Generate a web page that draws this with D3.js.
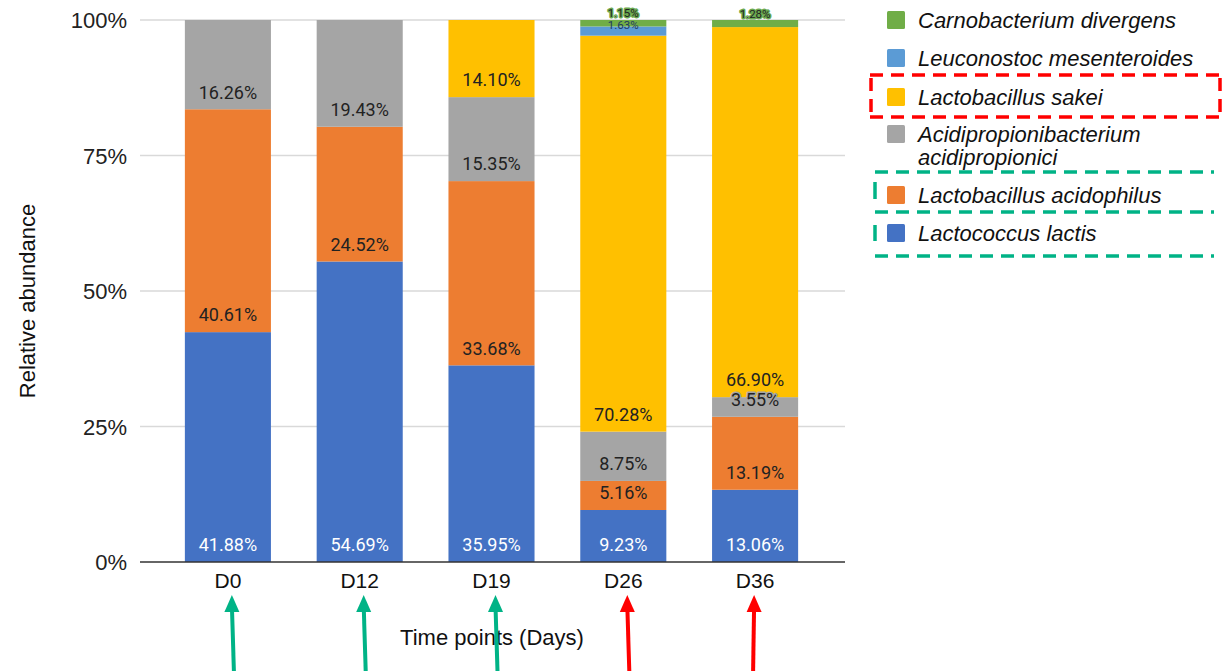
<!DOCTYPE html>
<html><head><meta charset="utf-8">
<script src="https://cdn.jsdelivr.net/npm/d3@7"></script>
<style>body{margin:0;background:#fff}svg{display:block}</style>
</head><body><svg id="c" width="1222" height="671"></svg>
<script>
const days = ["D0","D12","D19","D26","D36"];
const species = ["Lactococcus lactis","Lactobacillus acidophilus","Acidipropionibacterium acidipropionici","Lactobacillus sakei","Leuconostoc mesenteroides","Carnobacterium divergens"];
const lactis = [41.88,54.69,35.95,9.23,13.06];
const acidophilus = [40.61,24.52,33.68,5.16,13.19];
const acidipropionici = [16.26,19.43,15.35,8.75,3.55];
const sakei = [0,0,14.10,70.28,66.90];
const mesenteroides = [0,0,0,1.63,0];
const divergens = [0,0,0,1.15,1.28];
const yTicks = [0,0.25,0.5,0.75,1];
const arrowColors = ["green","green","green","red","red"];

const colors = ["#4472c4","#ed7d31","#a5a5a5","#ffc000","#5b9bd5","#70ad47"];
const series = [lactis,acidophilus,acidipropionici,sakei,mesenteroides,divergens];
const table = days.map((d,i)=>{const o={day:d}; species.forEach((s,k)=>o[s]=series[k][i]); return o;});
const stacked = d3.stack().keys(species).offset(d3.stackOffsetExpand)(table);

const svg = d3.select("#c");
const x = d3.scaleBand().domain(days).range([162,821]).paddingInner(0.347).paddingOuter(0.1735);
const y = d3.scaleLinear().domain([0,1]).range([562,20]);
const gx0 = 140, gx1 = 845;

// gridlines
svg.append("g").selectAll("line").data(yTicks.filter(t=>t>0)).join("line")
  .attr("x1",gx0).attr("x2",gx1).attr("y1",d=>y(d)).attr("y2",d=>y(d))
  .attr("stroke","#d9d9d9").attr("stroke-width",1.3);

// y tick labels
svg.append("g").selectAll("text").data(yTicks).join("text")
  .attr("x",127).attr("y",d=>y(d)+8).attr("text-anchor","end")
  .attr("font-family","Liberation Sans, Arial").attr("font-size",22).attr("fill","#222")
  .text(d3.format(".0%"));

// bars
const gs = svg.append("g").selectAll("g").data(stacked).join("g").attr("fill",(d,i)=>colors[i]);
gs.selectAll("rect").data(d=>d.filter(v=>v[1]-v[0]>0)).join("rect")
  .attr("x",d=>x(d.data.day)).attr("width",x.bandwidth())
  .attr("y",d=>y(d[1])).attr("height",d=>y(d[0])-y(d[1]));

// baseline
svg.append("line").attr("x1",gx0).attr("x2",gx1).attr("y1",y(0)).attr("y2",y(0)).attr("stroke","#333").attr("stroke-width",1.3);

// labels
const lab = svg.append("g").attr("font-family","Roboto, sans-serif").attr("text-anchor","middle");
stacked.forEach((s,k)=>{
  s.forEach(v=>{
    const val = v.data[species[k]];
    if(!(val>0)) return;
    const small = val < 3;
    const t = lab.append("text")
      .attr("x", x(v.data.day)+x.bandwidth()/2)
      .attr("y", y(v[0]) - (small?(k===5?13:11):17) + (small?4:6.3))
      .attr("font-size", small?11.5:18)
      .attr("fill", k===0 ? "#fff" : (k===4 ? "#1f3a60" : "#222"))
      .text(val.toFixed(2)+"%");
    if(k===5){ t.attr("stroke","#6aa84f").attr("stroke-width",3).attr("paint-order","stroke").attr("stroke-linejoin","round"); }
    else if(k>0 && k<4){ t.attr("stroke",colors[k]).attr("stroke-width",3).attr("paint-order","stroke").attr("stroke-linejoin","round"); }
  });
});

// x labels
svg.append("g").selectAll("text").data(days).join("text")
  .attr("x",d=>x(d)+x.bandwidth()/2).attr("y",588).attr("text-anchor","middle")
  .attr("font-family","Liberation Sans, Arial").attr("font-size",21).attr("fill","#111").text(d=>d);

// axis titles
svg.append("text").attr("x",492).attr("y",645).attr("text-anchor","middle")
  .attr("font-family","Liberation Sans, Arial").attr("font-size",22).attr("fill","#111").text("Time points (Days)");
svg.append("text").attr("transform","translate(35,301) rotate(-90)").attr("text-anchor","middle")
  .attr("font-family","Liberation Sans, Arial").attr("font-size",22).attr("fill","#111").text("Relative abundance");

// arrows
const acol = {green:"#00b386", red:"#ff0000"};
days.forEach((d,i)=>{
  const cx = x(d)+x.bandwidth()/2 + (i<4?4:-1);
  const c = acol[arrowColors[i]];
  const dx = i<4 ? 2 : -1;
  svg.append("line").attr("x1",cx).attr("y1",606).attr("x2",cx+dx).attr("y2",671).attr("stroke",c).attr("stroke-width",4);
  svg.append("path").attr("d",`M${cx},595 L${cx-7.5},612 L${cx+7.5},612 Z`).attr("fill",c);
});

// legend
const legendItems = [
  {k:5, lines:["Carnobacterium divergens"], cy:20},
  {k:4, lines:["Leuconostoc mesenteroides"], cy:58},
  {k:3, lines:["Lactobacillus sakei"], cy:97},
  {k:2, lines:["Acidipropionibacterium","acidipropionici"], cy:134},
  {k:1, lines:["Lactobacillus acidophilus"], cy:195},
  {k:0, lines:["Lactococcus lactis"], cy:233}
];
const lg = svg.append("g");
legendItems.forEach(it=>{
  lg.append("rect").attr("x",887).attr("y",it.cy-9).attr("width",18).attr("height",18).attr("rx",1.5).attr("fill",colors[it.k]);
  it.lines.forEach((ln,j)=>{
    lg.append("text").attr("x",918).attr("y",it.cy+8+j*23)
      .attr("font-family","Liberation Sans, Arial").attr("font-style","italic").attr("font-size",22).attr("fill","#111").text(ln);
  });
});

// dashed highlight boxes
const dash = {"stroke-width":3.5, "stroke-dasharray":"13,8", fill:"none"};
function dl(x1,y1,x2,y2,c){
  const l = svg.append("line").attr("x1",x1).attr("y1",y1).attr("x2",x2).attr("y2",y2).attr("stroke",c);
  Object.entries(dash).forEach(([a,v])=>l.attr(a,v));
}
dl(870,75,1221,75,"#ff0000"); dl(870,117,1221,117,"#ff0000");
dl(871,78,871,117,"#ff0000"); dl(1220,78,1220,117,"#ff0000");
const g2 = "#00b386";
dl(875,172,1214,172,g2); dl(875,212,1214,212,g2); dl(875,256,1214,256,g2);
svg.append("line").attr("x1",875).attr("y1",182).attr("x2",875).attr("y2",199).attr("stroke",g2).attr("stroke-width",3.5);
svg.append("line").attr("x1",875).attr("y1",225).attr("x2",875).attr("y2",241).attr("stroke",g2).attr("stroke-width",3.5);
</script></body></html>
